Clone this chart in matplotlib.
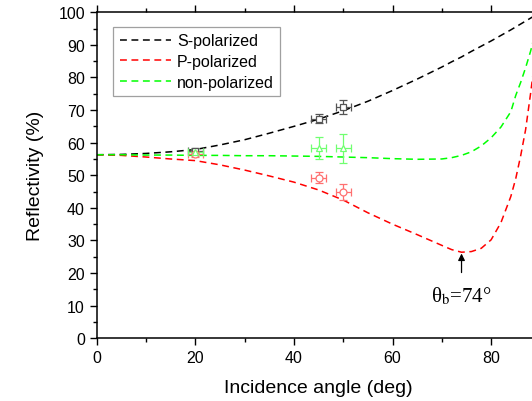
import numpy as np
import matplotlib
matplotlib.use('Agg')
import matplotlib.pyplot as plt
from matplotlib.ticker import MultipleLocator

plt.rcParams['font.family'] = ['Liberation Sans', 'DejaVu Sans']
plt.rcParams['mathtext.fontset'] = 'stix'

# --- calculated reflectivity curves (%) vs incidence angle (deg) ---
angle = [0, 5, 10, 15, 20, 25, 30, 35, 40, 45, 50, 55, 60, 65, 70,
         72, 74, 76, 78, 80, 82, 84, 85, 86, 87, 88, 89, 90]
r_s = [56.3, 56.4, 56.7, 57.2, 57.9, 59.3, 60.9, 62.9, 65.0, 67.2, 69.8, 72.7,
       76.0, 79.5, 83.2, 84.8, 86.3, 88.0, 89.6, 91.2, 92.9, 94.6, 95.5, 96.4,
       97.3, 98.2, 99.1, 100.0]
r_p = [56.3, 56.1, 55.6, 55.0, 54.5, 53.2, 51.6, 49.8, 47.9, 45.5, 42.4, 38.5,
       35.0, 31.8, 28.5, 27.2, 26.4, 26.6, 27.6, 30.2, 35.5, 43.5, 49.0, 56.0,
       64.0, 75.0, 87.0, 100.0]
r_n = [56.3, 56.3, 56.2, 56.2, 56.1, 56.1, 56.0, 56.0, 55.9, 55.8, 55.6, 55.4,
       55.1, 54.9, 55.0, 55.4, 56.1, 57.2, 59.0, 61.5, 64.8, 69.5, 74.5, 78.5,
       83.0, 88.0, 94.0, 100.0]

# --- measured points ---
meas_angle = [20, 45, 50]
meas_xerr = [1.5, 1.5, 1.5]
meas_s = [57.5, 67.3, 71.0]
meas_s_err = [1.0, 1.4, 2.1]
meas_p = [56.5, 49.2, 44.8]
meas_p_err = [1.0, 1.7, 2.4]
meas_n = [57.0, 58.3, 58.3]
meas_n_err = [1.0, 3.3, 4.5]

brewster = 74

fig = plt.figure(figsize=(5.32, 4.02), dpi=100)
ax = fig.add_axes([0.1818, 0.156, 0.834, 0.811])

dash = (0, (4.5, 3))
ax.plot(angle, r_s, color='black', lw=1.1, ls=dash, label='S-polarized')
ax.plot(angle, r_p, color='#ff0000', lw=1.1, ls=dash, label='P-polarized')
ax.plot(angle, r_n, color='#00ff00', lw=1.1, ls=dash, label='non-polarized')

eb = dict(capsize=3, elinewidth=0.9, capthick=0.9, markersize=5,
          markerfacecolor='white', markeredgewidth=0.9, ls='none', zorder=4)
ax.errorbar(meas_angle, meas_s, xerr=meas_xerr, yerr=meas_s_err, marker='s',
            color='#555555', markeredgecolor='#555555', **eb)
ax.errorbar(meas_angle, meas_p, xerr=meas_xerr, yerr=meas_p_err, marker='o',
            color='#ff7070', markeredgecolor='#ff7070', **eb)
ax.errorbar(meas_angle, meas_n, xerr=meas_xerr, yerr=meas_n_err, marker='^',
            color='#70ff70', markeredgecolor='#70ff70', **eb)

ax.annotate('θ$_{\\mathrm{b}}$=74°', xy=(brewster, 26.0), xytext=(brewster, 13),
            ha='center', va='center', fontsize=15, family='Liberation Serif',
            arrowprops=dict(arrowstyle='-|>', color='black', lw=0.9,
                            mutation_scale=10, shrinkA=7, shrinkB=0))

ax.set_xlim(0, 90)
ax.set_ylim(0, 100)
ax.xaxis.set_major_locator(MultipleLocator(20))
ax.xaxis.set_minor_locator(MultipleLocator(10))
ax.yaxis.set_major_locator(MultipleLocator(10))
ax.yaxis.set_minor_locator(MultipleLocator(5))
ax.tick_params(axis='both', which='major', labelsize=11.5, width=1.0, length=5,
               direction='out')
ax.tick_params(axis='both', which='minor', width=1.0, length=3, direction='out')
ax.tick_params(axis='x', top=True, which='both')
for s in ax.spines.values():
    s.set_linewidth(1.1)

ax.set_xlabel('Incidence angle (deg)', fontsize=14, labelpad=10)
ax.set_ylabel('Reflectivity (%)', fontsize=14, labelpad=10)

leg = ax.legend(loc='upper left', bbox_to_anchor=(0.037, 0.955), fontsize=11.5,
                frameon=True, fancybox=False, borderpad=0.4, handlelength=3.2,
                handletextpad=0.4, labelspacing=0.35, borderaxespad=0)
leg.get_frame().set_edgecolor('#888888')
leg.get_frame().set_linewidth(0.9)

fig.savefig('out.png', dpi=100)
